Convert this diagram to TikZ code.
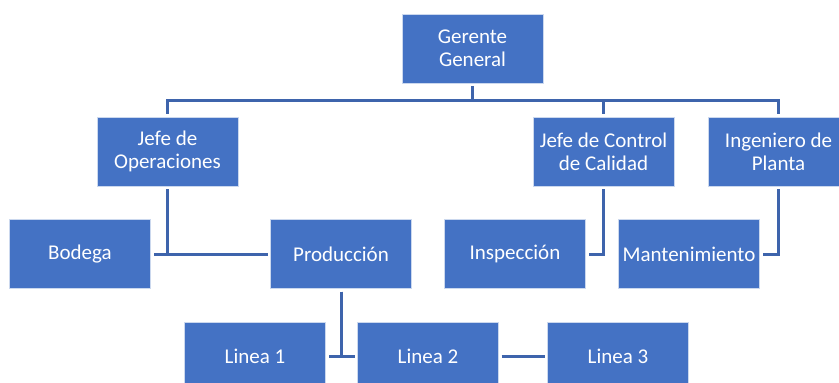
\documentclass[tikz,border=0pt]{standalone}
\usepackage{fontspec}
\setmainfont{Carlito}
\usetikzlibrary{positioning}
\definecolor{boxblue}{RGB}{68,114,196}
\definecolor{lineblue}{RGB}{62,100,172}
\tikzset{
    box/.style={rectangle, fill=boxblue, draw=white!72!boxblue, line width=0.8pt,
        minimum width=141pt, minimum height=69pt, inner sep=0pt, outer sep=0pt,
        align=center, text=white, font=\fontsize{21}{23}\selectfont},
    link/.style={draw=lineblue, line width=3pt, shorten <=3pt, shorten >=3pt},
}

\begin{document}
\begin{tikzpicture}[x=1pt, y=-1pt]
    \useasboundingbox (0,0) rectangle (839,383);

    % top
    \node[box] (gg) at (472.5,48.5) {Gerente\\General};

    % second row
    \node[box] (ops) at (167.5,151.5) {Jefe de\\Operaciones};
    \node[box, right=295pt of ops] (cal) {Jefe de Control\\de Calidad};
    \node[box, right=34pt of cal] (ing) {Ingeniero de\\Planta};

    % third row
    \node[box] (bod) at (80,254) {Bodega};
    \node[box, right=120pt of bod] (prod) {Producción};
    \node[box, right=33pt of prod] (insp) {Inspección};
    \node[box, right=33pt of insp] (mant) {Mantenimiento};

    % lines
    \node[box] (l1) at (255,356.5) {Linea 1};
    \node[box, right=32pt of l1] (l2) {Linea 2};
    \node[box, right=49pt of l2] (l3) {Linea 3};

    \draw[link, shorten >=0pt] (gg.south) -- ++(0,17) coordinate (bus);
    \draw[link, shorten <=0pt] (bus) -| (ops.north);
    \draw[link, shorten <=0pt] (bus) -| (cal.north);
    \draw[link, shorten <=0pt] (bus) -| (ing.north);

    \draw[link] (ops.south) |- (bod.east);
    \draw[link] (ops.south) |- (prod.west);
    \draw[link] (cal.south) |- (insp.east);
    \draw[link] (ing.south) |- (mant.east);

    \draw[link] (prod.south) |- (l1.east);
    \draw[link] (prod.south) |- (l2.west);
    \draw[link] (l2.east) -- (l3.west);
\end{tikzpicture}
\end{document}
